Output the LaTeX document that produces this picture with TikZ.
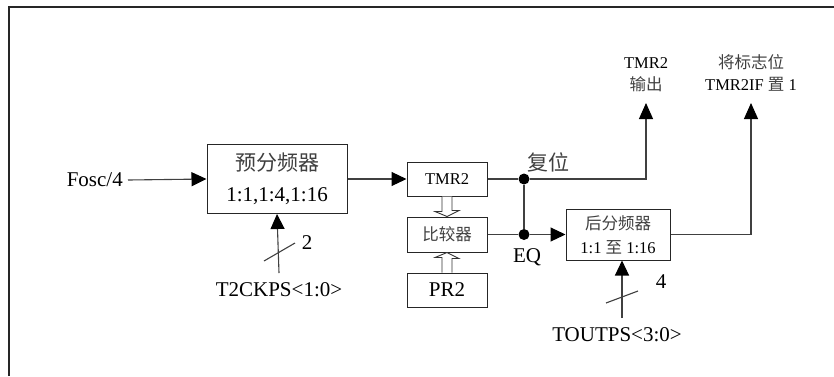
\documentclass[tikz,border=0pt]{standalone}
\usepackage{fontspec}
\setmainfont{Liberation Serif}
\newfontfamily\cjk{Noto Sans CJK SC}
\usetikzlibrary{arrows.meta,calc}
\newcommand\cn[1]{{\cjk\color{black!75}#1}}
\newcommand\bigtxt{\fontsize{21}{31}\selectfont}
\newcommand\smtxt{\fontsize{16.5}{24}\selectfont}
\begin{document}
\begin{tikzpicture}[x=1pt,y=-1pt,
  blk/.style={draw=black!85,line width=1pt,fill=white,inner sep=0pt,align=center},
  conn/.style={draw=black!75,line width=1.1pt},
  arr/.style={conn,-{Triangle[length=15pt,width=14pt,color=black,fill=black]}},
  uparr/.style={conn,-{Triangle[length=16pt,width=14pt,color=black,fill=black]}},
  hollow/.style={draw=black!80,line width=0.9pt,fill=white},
  dot/.style={circle,fill=black,inner sep=0pt,minimum size=11pt},
  lbl/.style={inner sep=0pt,align=center}]
\useasboundingbox (0,0) rectangle (834,376);
% frame
\draw[line width=2pt,black!85] (8.5,376) -- (8.5,7) -- (834,7);

% blocks
\node[blk,minimum width=140pt,minimum height=69pt,font=\bigtxt] (pre) at (277,179) {\cn{预分频器}\\1:1,1:4,1:16};
\node[blk,minimum width=80pt,minimum height=34pt,font=\smtxt] (tmr) at (447,179) {TMR2};
\node[blk,minimum width=80pt,minimum height=35pt,font=\smtxt] (cmp) at (447,234.5) {\cn{比较器}};
\node[blk,minimum width=80pt,minimum height=34pt,font=\bigtxt] (pr) at (447,290) {PR2};
\node[blk,minimum width=104pt,minimum height=51pt,font=\smtxt] (post) at (618,234.5) {\cn{后分频器}\\1:1 \cn{至} 1:16};

% labels
\node[lbl,font=\bigtxt,anchor=east] (fosc) at (123,180) {Fosc/4};
\node[lbl,font=\bigtxt] (t2) at (279,290) {T2CKPS<1:0>};
\node[lbl,font=\bigtxt] (tout) at (617,335) {TOUTPS<3:0>};
\node[lbl,font=\bigtxt] (two) at (307,243) {2};
\node[lbl,font=\bigtxt] (four) at (661,282) {4};
\node[lbl,font=\bigtxt] (rst) at (548,162) {\cn{复位}};
\node[lbl,font=\bigtxt] (eq) at (527,257) {EQ};
\node[lbl,font=\fontsize{16.5}{22}\selectfont,anchor=south] (outl) at (646,92) {TMR2\\\cn{输出}};
\node[lbl,font=\fontsize{16.5}{22}\selectfont,anchor=south] (flagl) at (751,92) {\cn{将标志位}\\TMR2IF \cn{置} 1};

% coordinates
\node[dot] (d1) at (524,179) {};
\node[dot] (d2) at (524,234.5) {};
\coordinate (c1) at (646,179);
\coordinate (o1) at (646,103);
\coordinate (c2) at (751,234.5);
\coordinate (o2) at (751,103);
\coordinate (pin) at (279,273);
\coordinate (qin) at (622,318);

% connectors
\draw[arr] ($(fosc.east)+(5,0)$) -- (pre.west);
\draw[arr] (pre.east) -- (tmr.west);
\draw[conn] (tmr.east) -- (d1);
\draw[uparr] (d1) -- (c1) -- (o1);
\draw[conn] (d1) -- (d2);
\draw[conn] (cmp.east) -- (d2);
\draw[arr] (d2) -- (post.west);
\draw[uparr] (post.east) -- (c2) -- (o2);
\draw[arr] (pin) -- (pre.south);
\draw[arr] (qin) -- (qin |- post.south);
% bus slashes
\draw[conn] ($(pin)+(-15,-12)$) -- ++(31,-18);
\draw[conn] ($(qin)+(-16,-15)$) -- ++(32,-12);

% hollow arrows
\draw[hollow] ($(tmr.south)+(-5,0)$) -- ++(0,15) -- ++(-7,0) -- (cmp.north) -- ++(12,-6) -- ++(-7,0) -- ($(tmr.south)+(5,0)$);
\draw[hollow] ($(pr.north)+(-5,0)$) -- ++(0,-15) -- ++(-7,0) -- (cmp.south) -- ++(12,6) -- ++(-7,0) -- ($(pr.north)+(5,0)$);
\end{tikzpicture}
\end{document}
